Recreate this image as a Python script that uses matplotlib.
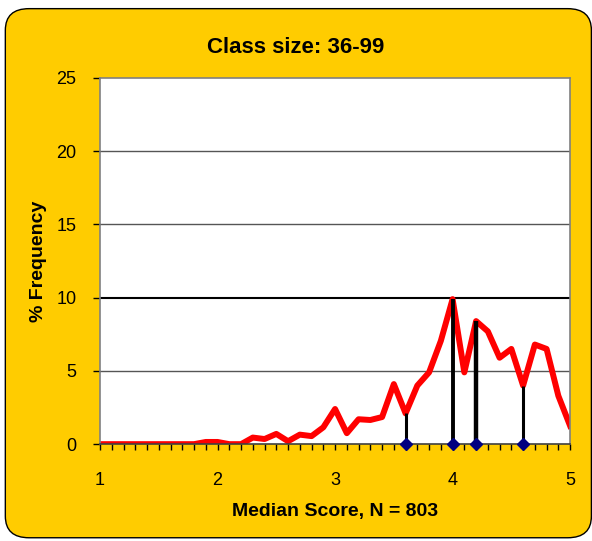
import numpy as np
import matplotlib.pyplot as plt
from matplotlib.patches import FancyBboxPatch

# median score bins (0.1 steps) and % frequency
scores = np.round(np.arange(1.0, 5.01, 0.1), 1)
freq = [0, 0, 0, 0, 0, 0, 0, 0, 0, 0.15,
        0.15, 0, 0, 0.45, 0.35, 0.7, 0.2, 0.65, 0.55, 1.15,
        2.4, 0.75, 1.7, 1.65, 1.85, 4.1, 2.1, 4.0, 4.9, 7.05,
        9.9, 4.9, 8.4, 7.7, 5.9, 6.5, 4.0, 6.8, 6.5, 3.3,
        1.25]

# drop lines at the medians
drop_x = [3.6, 4.0, 4.2, 4.6]
drop_w = [2.2, 2.8, 3.2, 2.2]

fig = plt.figure(figsize=(5.92, 5.41), dpi=100)
fig.patch.set_facecolor('white')

# rounded yellow background
bg = FancyBboxPatch((0.009, 0.006), 0.990, 0.978,
                    boxstyle='round,pad=0,rounding_size=0.04',
                    transform=fig.transFigure, facecolor='#FFCC00',
                    edgecolor='black', linewidth=1.0, zorder=-10)
fig.patches.append(bg)

ax = fig.add_axes([0.169, 0.179, 0.794, 0.677])
ax.set_facecolor('white')

for y in [5, 15, 20]:
    ax.axhline(y, color='#555555', linewidth=1.0, zorder=1)
ax.axhline(10, color='black', linewidth=1.5, zorder=1)

for x, w in zip(drop_x, drop_w):
    ax.vlines(x, 0, freq[list(scores).index(x)], color='black', linewidth=w, zorder=3)

ax.plot(scores, freq, color='#FF0000', linewidth=4.3, solid_joinstyle='round', zorder=2)
ax.plot(drop_x, [0] * len(drop_x), linestyle='none', marker='D', markersize=6,
        color='#000080', zorder=4, clip_on=False)

ax.set_xlim(1, 5)
ax.set_ylim(0, 25)
ax.set_xticks([1, 2, 3, 4, 5])
ax.set_xticks(np.arange(1, 5.01, 0.1), minor=True)
ax.set_yticks([0, 5, 10, 15, 20, 25])

for s in ax.spines.values():
    s.set_color('#808080')
    s.set_linewidth(1.2)
ax.spines['bottom'].set_color('#404040')

ax.tick_params(axis='x', which='both', direction='out', length=4, width=1,
               color='black', labelsize=13, pad=16)
ax.tick_params(axis='y', which='major', direction='out', length=5, width=1,
               color='black', labelsize=13, pad=12)
for lab in ax.get_xticklabels() + ax.get_yticklabels():
    lab.set_family('Liberation Sans')

ax.set_xlabel('Median Score, N = 803', fontsize=14, fontweight='bold',
              family='Liberation Sans', labelpad=10)
ax.set_ylabel('% Frequency', fontsize=14, fontweight='bold',
              family='Liberation Sans', labelpad=7)
fig.text(0.5, 0.913, 'Class size: 36-99', ha='center', va='center',
         fontsize=16, fontweight='bold', family='Liberation Sans')

fig.savefig('out.png', dpi=100, facecolor=fig.get_facecolor())
